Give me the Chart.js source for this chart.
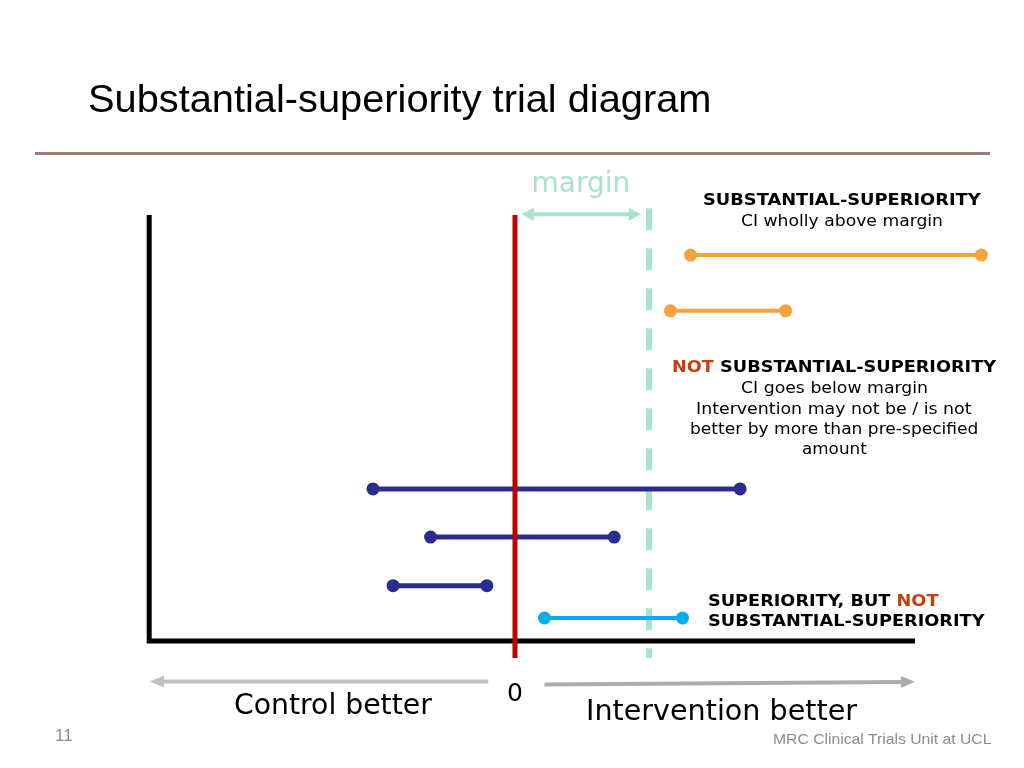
<!DOCTYPE html>
<html>
<head>
<meta charset="utf-8">
<title>Substantial-superiority trial diagram</title>
<script src="https://cdn.jsdelivr.net/npm/chart.js@4.4.1/dist/chart.umd.min.js"></script>
<style>
  html, body { margin: 0; padding: 0; background: #fff; }
  #slide { position: relative; width: 1024px; height: 768px; overflow: hidden; }
  #diagram { position: absolute; left: 0; top: 0; }
  #rule { position: absolute; left: 35px; top: 152px; width: 955px; height: 3px; background: #9b7e77; }
  .t { position: absolute; white-space: nowrap; line-height: 1; transform-origin: 0 0;
       font-family: "DejaVu Sans", Verdana, sans-serif; color: #000; }
  .arial { font-family: "Liberation Sans", Arial, sans-serif; }
  .b { font-weight: bold; }
  .red { color: #c4410f; }
  .grey { color: #8c8c8c; }
</style>
</head>
<body>
<div id="slide">
  <canvas id="diagram" width="1024" height="768"></canvas>
  <div id="rule"></div>

  <div class="t arial" data-x="88" data-base="113" data-fs="38.5" data-w="623">Substantial-superiority trial diagram</div>

  <div class="t" style="color:#a9e2cd" data-cx="581" data-base="193" data-fs="28" data-w="99">margin</div>

  <div class="t b" data-cx="842" data-base="206" data-fs="16" data-w="278">SUBSTANTIAL-SUPERIORITY</div>
  <div class="t" data-cx="842" data-base="227" data-fs="16" data-w="202">CI wholly above margin</div>

  <div class="t b" data-cx="834" data-base="373" data-fs="16" data-w="324"><span class="red">NOT</span> SUBSTANTIAL-SUPERIORITY</div>
  <div class="t" data-cx="834" data-base="394" data-fs="16" data-w="187">CI goes below margin</div>
  <div class="t" data-cx="834" data-base="415" data-fs="16" data-w="276">Intervention may not be / is not</div>
  <div class="t" data-cx="834" data-base="435" data-fs="16" data-w="288">better by more than pre-specified</div>
  <div class="t" data-cx="834" data-base="455" data-fs="16" data-w="65">amount</div>

  <div class="t b" data-x="708" data-base="607" data-fs="16" data-w="230">SUPERIORITY, BUT <span class="red">NOT</span></div>
  <div class="t b" data-x="708" data-base="627" data-fs="16" data-w="277">SUBSTANTIAL-SUPERIORITY</div>

  <div class="t" data-cx="515" data-base="701" data-fs="25" data-w="16">0</div>
  <div class="t" data-cx="333" data-base="715" data-fs="29" data-w="198">Control better</div>
  <div class="t" data-cx="721" data-base="721" data-fs="29" data-w="271">Intervention better</div>

  <div class="t arial grey" data-x="55" data-base="742" data-fs="16" data-w="18">11</div>
  <div class="t arial grey" data-x="773" data-base="744" data-fs="15" data-w="218">MRC Clinical Trials Unit at UCL</div>
</div>

<script>
// 신뢰구간 (margin = 1 단위, 0 = 차이 없음)
const ciLower = [1.31, 1.16, -1.06, -0.63, -0.91, 0.22];
const ciUpper = [3.48, 2.02, 1.68, 0.74, -0.21, 1.25];
const ciRow = [9.06, 7.75, 3.57, 2.44, 1.30, 0.54];
const ciGroup = ['substantial', 'substantial', 'not', 'not', 'not', 'superior'];

const marginValue = 1;
const zeroValue = 0;

// 축 / 기준선 범위
const axisLeft = -2.73;
const axisRight = 2.985;
const axisTop = 10;
const lineBottom = -0.4;
const dashTop = 10.16;

// 화살표 (시작, 끝)
const marginArrowX = [0.14, 0.85];
const marginArrowY = 10.02;
const controlArrowX = [-0.20, -2.62];
const controlArrowY = -0.95;
const interventionArrowX = [0.22, 2.88];
const interventionArrowY = [-1.02, -0.96];

const groupColors = {
  substantial: '#f6a23f',
  not: '#2b2c92',
  superior: '#05aeea'
};

// 텍스트 위치 맞추기
document.querySelectorAll('.t').forEach(el => {
  const fs = parseFloat(el.dataset.fs);
  const w = parseFloat(el.dataset.w);
  el.style.fontSize = fs + 'px';
  el.style.top = (parseFloat(el.dataset.base) - 0.846 * fs) + 'px';
  const natural = el.offsetWidth;
  const left = el.dataset.cx !== undefined ? parseFloat(el.dataset.cx) - w / 2 : parseFloat(el.dataset.x);
  el.style.left = left + 'px';
  el.style.transform = `scaleX(${w / natural})`;
});

// 선 끝 화살촉 그리기
const arrowHeads = {
  id: 'arrowHeads',
  afterDatasetsDraw(chart) {
    const ctx = chart.ctx;
    chart.data.datasets.forEach((ds, i) => {
      if (!ds.arrowHead) return;
      const pts = chart.getDatasetMeta(i).data;
      const ends = [];
      if (ds.arrowHead === 'end' || ds.arrowHead === 'both') ends.push([pts[pts.length - 2], pts[pts.length - 1]]);
      if (ds.arrowHead === 'start' || ds.arrowHead === 'both') ends.push([pts[1], pts[0]]);
      ends.forEach(([from, to]) => {
        const a = Math.atan2(to.y - from.y, to.x - from.x);
        const len = ds.headLength, half = ds.headWidth / 2;
        const tipX = to.x + Math.cos(a) * len, tipY = to.y + Math.sin(a) * len;
        ctx.save();
        ctx.fillStyle = ds.borderColor;
        ctx.beginPath();
        ctx.moveTo(tipX, tipY);
        ctx.lineTo(to.x - Math.sin(a) * half, to.y + Math.cos(a) * half);
        ctx.lineTo(to.x + Math.sin(a) * half, to.y - Math.cos(a) * half);
        ctx.closePath();
        ctx.fill();
        ctx.restore();
      });
    });
  }
};

const ciDatasets = ciLower.map((lo, i) => ({
  label: 'CI ' + (i + 1),
  data: [{ x: lo, y: ciRow[i] }, { x: ciUpper[i], y: ciRow[i] }],
  borderColor: groupColors[ciGroup[i]],
  backgroundColor: groupColors[ciGroup[i]],
  borderWidth: ciGroup[i] === 'not' ? 5 : 4,
  pointRadius: 6.5,
  pointBorderWidth: 0,
  order: 3
}));

const plain = { pointRadius: 0, fill: false, clip: false, borderCapStyle: 'butt' };

const chart = new Chart(document.getElementById('diagram').getContext('2d'), {
  type: 'scatter',
  data: {
    datasets: [
      { ...plain, label: 'margin line',
        data: [{ x: marginValue, y: dashTop }, { x: marginValue, y: lineBottom }],
        borderColor: '#a9e2cd', borderWidth: 6, borderDash: [22, 18], order: 6 },
      { ...plain, label: 'axes',
        data: [{ x: axisLeft, y: axisTop }, { x: axisLeft, y: 0 }, { x: axisRight, y: 0 }],
        borderColor: '#000', borderWidth: 5, borderJoinStyle: 'miter', order: 5 },
      ...ciDatasets,
      { ...plain, label: 'zero line',
        data: [{ x: zeroValue, y: axisTop }, { x: zeroValue, y: lineBottom }],
        borderColor: '#c00000', borderWidth: 5, order: 1 },
      { ...plain, label: 'margin arrow',
        data: [{ x: marginArrowX[0], y: marginArrowY }, { x: marginArrowX[1], y: marginArrowY }],
        borderColor: '#a9e2cd', borderWidth: 4, arrowHead: 'both', headLength: 12, headWidth: 13, order: 2 },
      { ...plain, label: 'control better',
        data: [{ x: controlArrowX[0], y: controlArrowY }, { x: controlArrowX[1], y: controlArrowY }],
        borderColor: '#c0c0c0', borderWidth: 4, arrowHead: 'end', headLength: 14, headWidth: 12, order: 2 },
      { ...plain, label: 'intervention better',
        data: [{ x: interventionArrowX[0], y: interventionArrowY[0] }, { x: interventionArrowX[1], y: interventionArrowY[1] }],
        borderColor: '#acacac', borderWidth: 4, arrowHead: 'end', headLength: 14, headWidth: 12, order: 2 }
    ]
  },
  options: {
    responsive: false,
    animation: false,
    events: [],
    showLine: true,
    layout: { padding: { left: 113, right: 26.6, top: 172.4, bottom: 71.6 } },
    scales: {
      x: { type: 'linear', display: false, min: -3, max: 3.6 },
      y: { type: 'linear', display: false, min: -1.3, max: 11 }
    },
    plugins: {
      legend: { display: false },
      tooltip: { enabled: false }
    }
  },
  plugins: [arrowHeads]
});
</script>
</body>
</html>
